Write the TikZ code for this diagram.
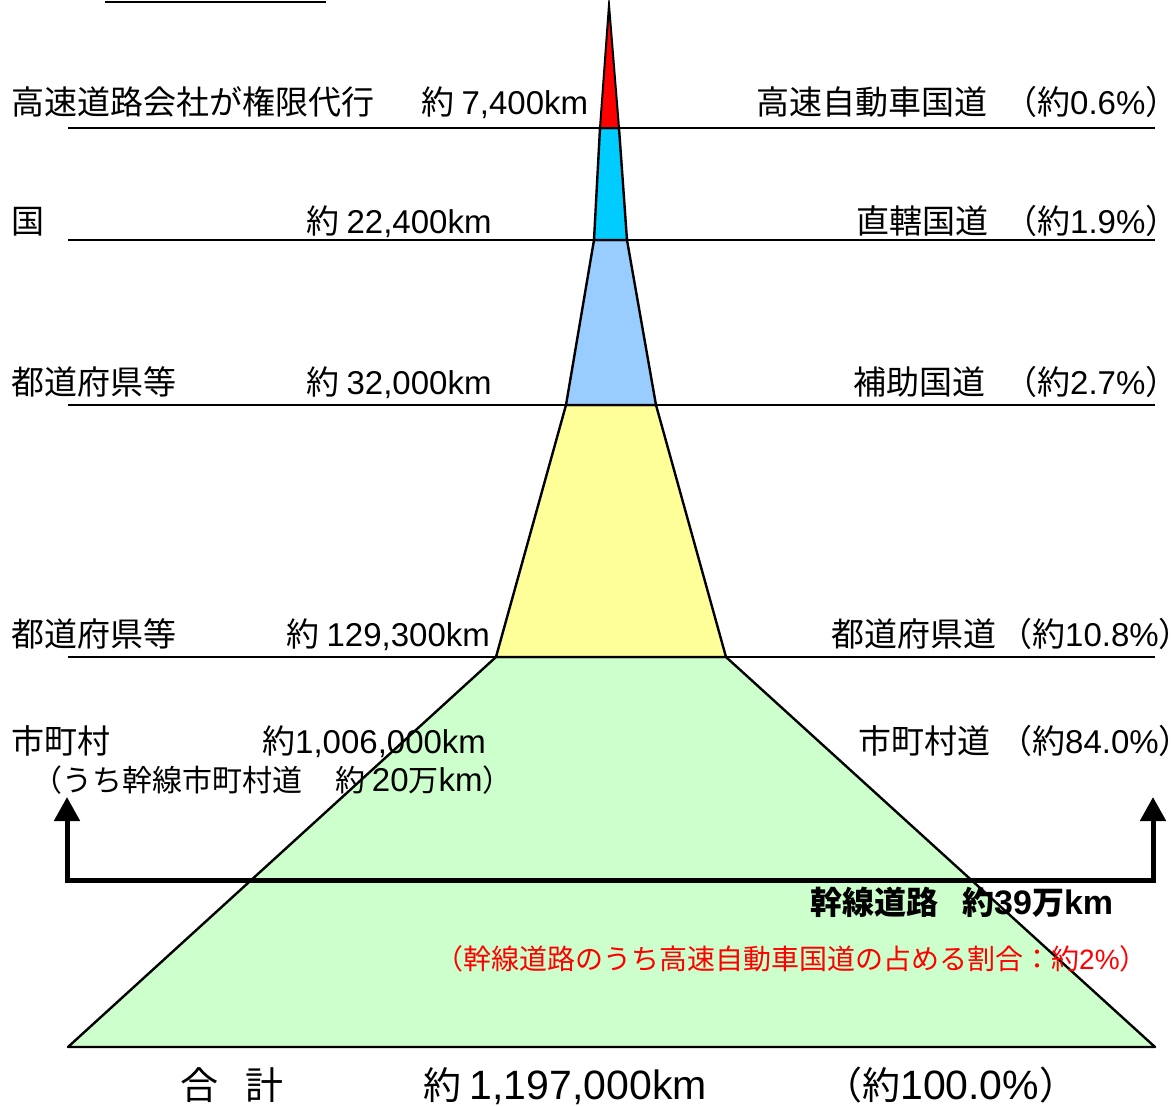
\documentclass[tikz,border=0pt]{standalone}
\usepackage{fontspec}
\newfontfamily\jp{Noto Sans CJK JP}
\newfontfamily\latn{Liberation Sans}
\usetikzlibrary{arrows.meta}
\definecolor{cRed}{RGB}{255,0,0}
\definecolor{cCyan}{RGB}{0,204,255}
\definecolor{cBlue}{RGB}{153,204,255}
\definecolor{cYel}{RGB}{255,255,153}
\definecolor{cGrn}{RGB}{204,255,204}
\newcommand\closep{\makebox[0.45em][l]{）}}
\begin{document}
\begin{tikzpicture}[x=1pt,y=-1pt,
  tier/.style={draw=black,line width=2.4pt},
  rule/.style={draw=black,line width=2.4pt},
  lbl/.style={inner sep=0pt,anchor=base west,font={\jp\fontsize{33}{38}\selectfont}},
  sub/.style={inner sep=0pt,anchor=base west,font={\jp\fontsize{30}{36}\selectfont}},
  bold/.style={inner sep=0pt,anchor=base west,font={\jp\bfseries\fontsize{32}{38}\selectfont}},
  note/.style={inner sep=0pt,anchor=base west,text=cRed,font={\jp\fontsize{28}{32}\selectfont}},
  total/.style={inner sep=0pt,anchor=base west,font={\jp\fontsize{38}{42}\selectfont}},
  bracket/.style={draw=black,line width=5pt,{Triangle[width=25pt,length=24pt]}-{Triangle[width=25pt,length=24pt]}}
]
\useasboundingbox (0,0) rectangle (1171,1106);
% top-left cut-off underline
\draw[line width=2pt] (105,2) -- (326,2);
% pyramid tiers
\filldraw[tier,fill=cGrn,line join=round] (496,657) -- (726,657) -- (1155,1047) -- (68,1047) -- cycle;
\filldraw[tier,fill=cYel,line join=round] (566,405) -- (656,405) -- (726,657) -- (496,657) -- cycle;
\filldraw[tier,fill=cBlue,line join=round] (594,240) -- (627,240) -- (656,405) -- (566,405) -- cycle;
\filldraw[tier,fill=cCyan,line join=round] (600,128) -- (619,128) -- (627,240) -- (594,240) -- cycle;
\filldraw[tier,fill=cRed,line width=2pt,miter limit=30] (609,5) -- (619,128) -- (600,128) -- cycle;
% horizontal rules
\draw[rule] (68,128) -- (1155,128);
\draw[rule] (68,240) -- (1155,240);
\draw[rule] (68,405) -- (1155,405);
\draw[rule] (68,657) -- (1155,657);
% row 1
\node[lbl] (r1a) at (11,114) {高速道路会社が権限代行};
\node[lbl] (r1b) at (421,114) {約 {\latn 7,400km}};
\node[lbl] (r1c) at (756,114) {高速自動車国道};
\node[lbl] (r1d) at (1004,114) {（約{\latn 0.6\%}\closep};
% row 2
\node[lbl] (r2a) at (11,233) {国};
\node[lbl] (r2b) at (306,233) {約 {\latn 22,400km}};
\node[lbl] (r2c) at (856,233) {直轄国道};
\node[lbl] (r2d) at (1004,233) {（約{\latn 1.9\%}\closep};
% row 3
\node[lbl] (r3a) at (11,394) {都道府県等};
\node[lbl] (r3b) at (306,394) {約 {\latn 32,000km}};
\node[lbl] (r3c) at (853,394) {補助国道};
\node[lbl] (r3d) at (1004,394) {（約{\latn 2.7\%}\closep};
% row 4
\node[lbl] (r4a) at (11,646) {都道府県等};
\node[lbl] (r4b) at (286,646) {約 {\latn 129,300km}};
\node[lbl] (r4c) at (831,646) {都道府県道};
\node[lbl] (r4d) at (999,646) {（約{\latn 10.8\%}\closep};
% row 5
\node[lbl] (r5a) at (11,753) {市町村};
\node[lbl] (r5b) at (262,753) {約{\latn 1,006,000km}};
\node[lbl] (r5c) at (858,753) {市町村道};
\node[lbl] (r5d) at (999,753) {（約{\latn 84.0\%}\closep};
% row 6
\node[sub] (r6a) at (32,791) {（うち幹線市町村道\hspace{33pt}約 {\latn\fontsize{33}{36}\selectfont 20}万{\latn\fontsize{33}{36}\selectfont km}）};
% bracket of trunk roads
\coordinate (la) at (67,797);
\coordinate (lb) at (67,880);
\coordinate (rb) at (1153,880);
\coordinate (ra) at (1153,797);
\draw[bracket] (la) -- (lb) -- (rb) -- (ra);
% trunk road labels
\node[bold] (trunk) at (810,914) {幹線道路\hspace{24pt}約{\latn\bfseries\fontsize{34}{38}\selectfont 39}万{\latn\bfseries\fontsize{34}{38}\selectfont km}};
\node[note] (share) at (435,969) {（幹線道路のうち高速自動車国道の占める割合：約{\latn 2\%}）};
% totals
\node[total] (tot1) at (180,1099) {合\hspace{27pt}計};
\node[total] (tot2) at (423,1099) {約 {\latn\fontsize{41}{44}\selectfont 1,197,000km}};
\node[total] (tot3) at (824,1099) {（約{\latn\fontsize{41}{44}\selectfont 100.0\%}）};
\end{tikzpicture}
\end{document}
